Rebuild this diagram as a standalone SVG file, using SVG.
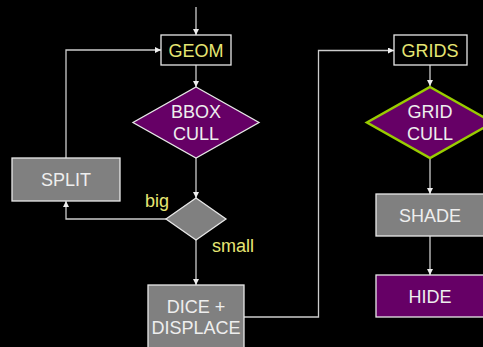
<svg xmlns="http://www.w3.org/2000/svg" width="483" height="347" viewBox="0 0 483 347">
<style>
.t{font-family:"Liberation Sans",Arial,sans-serif;font-size:18px;text-anchor:middle}
.w{fill:#eeeeee}
.y{fill:#e6e673}
.c{fill:none;stroke:#cccccc;stroke-width:1.3}
.box{stroke:#e8e8e8;stroke-width:1.3}
</style>
<defs>
<marker id="ah" viewBox="0 0 10 10" refX="10" refY="5" markerWidth="6" markerHeight="6" markerUnits="userSpaceOnUse" orient="auto">
<path d="M0,0 L10,5 L0,10 z" fill="#eeeeee"/>
</marker>
</defs>
<rect width="483" height="347" fill="#000000"/>
<g id="connectors">
<path class="c" d="M196,7 V35" marker-end="url(#ah)"/>
<path class="c" d="M196,65 V87" marker-end="url(#ah)"/>
<path class="c" d="M196,158 V198" marker-end="url(#ah)"/>
<path class="c" d="M166,219 H66 V201" marker-end="url(#ah)"/>
<path class="c" d="M66,158 V50 H161" marker-end="url(#ah)"/>
<path class="c" d="M196,240 V285" marker-end="url(#ah)"/>
<path class="c" d="M244,317 H318.5 V50.5 H394" marker-end="url(#ah)"/>
<path class="c" d="M430,65 V86" marker-end="url(#ah)"/>
<path class="c" d="M430,158 V194" marker-end="url(#ah)"/>
<path class="c" d="M430,236 V275" marker-end="url(#ah)"/>
</g>
<g id="geom">
<rect class="box" x="161" y="35" width="70" height="30" fill="#000000"/>
<text class="t y" x="196" y="57">GEOM</text>
</g>
<g id="bbox-cull">
<polygon class="box" points="196,87 259,122.5 196,158 133,122.5" fill="#660066"/>
<text class="t w" x="196" y="118">BBOX</text>
<text class="t w" x="196" y="140">CULL</text>
</g>
<g id="split">
<rect class="box" x="12" y="158" width="108" height="43" fill="#808080"/>
<text class="t w" x="66" y="186">SPLIT</text>
</g>
<g id="size-test">
<polygon class="box" points="196,198 226,219 196,240 166,219" fill="#808080"/>
<text class="t y" x="157" y="207">big</text>
<text class="t y" x="233" y="252">small</text>
</g>
<g id="dice">
<rect class="box" x="148" y="285" width="96" height="70" fill="#808080"/>
<text class="t w" x="196" y="313">DICE +</text>
<text class="t w" x="196" y="334">DISPLACE</text>
</g>
<g id="grids">
<rect class="box" x="394" y="35" width="73" height="30" fill="#000000"/>
<text class="t y" x="430" y="57">GRIDS</text>
</g>
<g id="grid-cull">
<polygon points="430,87 493,122.5 430,158 367,122.5" fill="#660066" stroke="#99cc00" stroke-width="2.5"/>
<text class="t w" x="430" y="118">GRID</text>
<text class="t w" x="430" y="140">CULL</text>
</g>
<g id="shade">
<rect class="box" x="376" y="194" width="108" height="42" fill="#808080"/>
<text class="t w" x="430" y="222">SHADE</text>
</g>
<g id="hide">
<rect class="box" x="376" y="275" width="108" height="42" fill="#660066"/>
<text class="t w" x="430" y="303">HIDE</text>
</g>
</svg>
